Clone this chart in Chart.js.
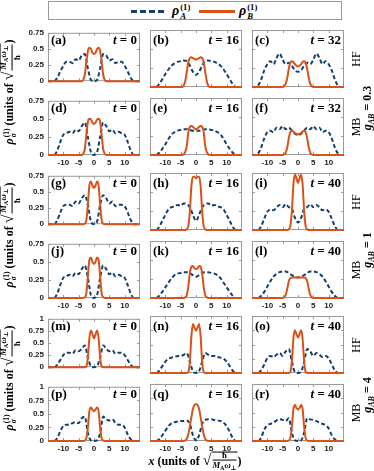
<!DOCTYPE html>
<html>
<head>
<meta charset="utf-8">
<script src="https://cdn.jsdelivr.net/npm/chart.js@4.4.0/dist/chart.umd.min.js"></script>
<style>
  body { margin:0; width:374px; height:471px; position:relative; background:#fff; overflow:hidden;
         font-family:"Liberation Serif","DejaVu Serif",serif; color:#000; }
  canvas { position:absolute; }
  .plab { position:absolute; font-weight:bold; font-size:13px; line-height:13px; white-space:nowrap; }
  .rot { position:absolute; white-space:nowrap; transform:translate(-50%,-50%) rotate(-90deg); }
  .ss { display:inline-flex; flex-direction:column; vertical-align:middle; font-size:0.62em; line-height:1em; margin-left:1px; }
  .frac { display:inline-flex; flex-direction:column; vertical-align:middle; font-size:0.72em; line-height:1.05em; text-align:center; }
  .frac > span:first-child { border-bottom:1px solid #000; padding:0 1px; }
  .rad { border-top:1px solid #000; padding:1px 1px 0 1px; }
  #legend { position:absolute; left:48px; top:1px; width:294px; height:19px; border:1px solid #999; box-sizing:border-box; }
</style>
</head>
<body>
<div id="legend">
  <div style="position:absolute;left:82px;top:8px;width:36px;height:2.5px;background:repeating-linear-gradient(to right,#123f6e 0 6px,transparent 6px 9px);"></div>
  <div class="plab" style="left:123px;top:1px;font-size:14px;"><i>ρ</i><span class="ss"><span>(1)</span><span><i>A</i></span></span></div>
  <div style="position:absolute;left:150px;top:8px;width:36px;height:2.5px;background:#d95319;"></div>
  <div class="plab" style="left:190px;top:1px;font-size:14px;"><i>ρ</i><span class="ss"><span>(1)</span><span><i>B</i></span></span></div>
</div>
<script>
// x grid for species A (step 1) and B (finer near the centre)
const X_A = [-15,-14,-13,-12,-11,-10,-9,-8,-7,-6,-5,-4,-3,-2,-1,0,1,2,3,4,5,6,7,8,9,10,11,12,13,14,15];
const X_B = [-15,-5,-4.5,-4,-3.5,-3,-2.5,-2,-1.5,-1,-0.5,0,0.5,1,1.5,2,2.5,3,3.5,4,4.5,5,15];

const X_TICKS = [-10,-5,0,5,10];
const Y_TICKS_SMALL = [0,0.25,0.5,0.75];
const Y_TICKS_BIG = [0,0.25,0.5,0.75,1];

// rho_A^(1) per panel
const rhoA_a = [0,0,0,0.05,0.15,0.24,0.3,0.3,0.28,0.34,0.32,0.4,0.42,0.2,0.02,0,0.02,0.2,0.42,0.4,0.32,0.34,0.28,0.3,0.3,0.24,0.15,0.05,0,0,0];
const rhoA_b = [0,0,0,0.04,0.1,0.17,0.23,0.28,0.31,0.33,0.34,0.35,0.34,0.28,0.2,0.16,0.2,0.28,0.34,0.35,0.34,0.33,0.31,0.28,0.23,0.17,0.1,0.04,0,0,0];
const rhoA_c = [0,0,0.02,0.1,0.22,0.3,0.34,0.3,0.38,0.44,0.36,0.3,0.32,0.28,0.22,0.2,0.22,0.28,0.32,0.3,0.36,0.44,0.38,0.3,0.34,0.3,0.22,0.1,0.02,0,0];
const rhoA_d = [0,0,0,0.06,0.18,0.28,0.3,0.32,0.3,0.35,0.33,0.4,0.45,0.25,0.04,0,0.04,0.25,0.45,0.4,0.33,0.35,0.3,0.32,0.3,0.28,0.18,0.06,0,0,0];
const rhoA_e = [0,0,0,0.03,0.08,0.14,0.21,0.27,0.3,0.32,0.33,0.34,0.34,0.33,0.32,0.32,0.32,0.33,0.34,0.34,0.33,0.32,0.3,0.27,0.21,0.14,0.08,0.03,0,0,0];
const rhoA_f = [0,0,0.02,0.1,0.22,0.3,0.32,0.3,0.36,0.34,0.38,0.34,0.36,0.32,0.28,0.26,0.28,0.32,0.36,0.34,0.38,0.34,0.36,0.3,0.32,0.3,0.22,0.1,0.02,0,0];
const rhoA_g = [0,0,0,0.06,0.18,0.28,0.3,0.3,0.28,0.35,0.32,0.4,0.45,0.3,0.04,0,0.04,0.3,0.45,0.4,0.32,0.35,0.28,0.3,0.3,0.28,0.18,0.06,0,0,0];
const rhoA_h = [0,0,0,0.04,0.12,0.2,0.27,0.3,0.31,0.33,0.32,0.35,0.34,0.3,0.2,0.12,0.2,0.3,0.34,0.35,0.32,0.33,0.31,0.3,0.27,0.2,0.12,0.04,0,0,0];
const rhoA_i = [0,0,0,0.05,0.15,0.24,0.27,0.26,0.3,0.33,0.3,0.34,0.3,0.28,0.16,0.1,0.16,0.28,0.3,0.34,0.3,0.33,0.3,0.26,0.27,0.24,0.15,0.05,0,0,0];
const rhoA_j = [0,0,0,0.06,0.18,0.28,0.3,0.32,0.3,0.35,0.33,0.4,0.45,0.28,0.04,0,0.04,0.28,0.45,0.4,0.33,0.35,0.3,0.32,0.3,0.28,0.18,0.06,0,0,0];
const rhoA_k = [0,0,0,0.03,0.08,0.14,0.2,0.26,0.3,0.32,0.33,0.34,0.34,0.33,0.3,0.28,0.3,0.33,0.34,0.34,0.33,0.32,0.3,0.26,0.2,0.14,0.08,0.03,0,0,0];
const rhoA_l = [0,0,0,0.03,0.08,0.15,0.22,0.28,0.32,0.34,0.35,0.35,0.33,0.3,0.28,0.27,0.28,0.3,0.33,0.35,0.35,0.34,0.32,0.28,0.22,0.15,0.08,0.03,0,0,0];
const rhoA_m = [0,0,0,0.05,0.15,0.25,0.3,0.3,0.28,0.35,0.33,0.38,0.45,0.2,0.02,0,0.02,0.2,0.45,0.38,0.33,0.35,0.28,0.3,0.3,0.25,0.15,0.05,0,0,0];
const rhoA_n = [0,0,0,0.04,0.12,0.2,0.25,0.27,0.28,0.3,0.3,0.32,0.35,0.2,0.03,0,0.03,0.2,0.35,0.32,0.3,0.3,0.28,0.27,0.25,0.2,0.12,0.04,0,0,0];
const rhoA_o = [0,0,0,0.05,0.15,0.26,0.3,0.28,0.32,0.35,0.3,0.38,0.42,0.2,0.02,0,0.02,0.2,0.42,0.38,0.3,0.35,0.32,0.28,0.3,0.26,0.15,0.05,0,0,0];
const rhoA_p = [0,0,0,0.05,0.18,0.28,0.3,0.3,0.33,0.35,0.33,0.42,0.45,0.15,0.01,0,0.01,0.15,0.45,0.4,0.38,0.4,0.33,0.3,0.3,0.25,0.12,0.03,0,0,0];
const rhoA_q = [0,0,0,0.03,0.1,0.18,0.26,0.31,0.33,0.34,0.35,0.35,0.36,0.3,0.1,0.01,0.1,0.3,0.37,0.38,0.38,0.37,0.36,0.35,0.32,0.26,0.16,0.05,0,0,0];
const rhoA_r = [0,0,0,0.06,0.2,0.28,0.3,0.32,0.36,0.38,0.37,0.35,0.4,0.15,0.01,0,0.01,0.15,0.4,0.38,0.37,0.35,0.32,0.3,0.28,0.22,0.1,0.03,0,0,0];

// rho_B^(1) per panel
const rhoB_a = [0,0,0,0,0.02,0.1,0.3,0.47,0.52,0.5,0.44,0.42,0.44,0.5,0.52,0.47,0.3,0.1,0.02,0,0,0,0];
const rhoB_b = [0,0,0,0.02,0.08,0.2,0.33,0.38,0.39,0.38,0.37,0.36,0.37,0.38,0.39,0.38,0.33,0.2,0.08,0.02,0,0,0];
const rhoB_c = [0,0,0.01,0.04,0.12,0.24,0.32,0.34,0.33,0.3,0.28,0.27,0.28,0.3,0.33,0.34,0.32,0.24,0.12,0.04,0.01,0,0];
const rhoB_d = [0,0,0,0,0.02,0.08,0.28,0.46,0.5,0.49,0.45,0.43,0.45,0.49,0.5,0.46,0.28,0.08,0.02,0,0,0,0];
const rhoB_e = [0,0,0,0.01,0.04,0.12,0.3,0.37,0.38,0.37,0.35,0.34,0.35,0.37,0.38,0.37,0.3,0.12,0.04,0.01,0,0,0];
const rhoB_f = [0,0,0.01,0.03,0.1,0.22,0.3,0.32,0.31,0.29,0.28,0.27,0.28,0.29,0.31,0.32,0.3,0.22,0.1,0.03,0.01,0,0];
const rhoB_g = [0,0,0,0,0,0.01,0.06,0.3,0.6,0.66,0.6,0.56,0.6,0.66,0.6,0.3,0.06,0.01,0,0,0,0,0];
const rhoB_h = [0,0,0,0,0,0.01,0.05,0.25,0.58,0.7,0.7,0.68,0.7,0.7,0.58,0.25,0.05,0.01,0,0,0,0,0];
const rhoB_i = [0,0,0,0,0,0.01,0.05,0.25,0.6,0.73,0.68,0.62,0.68,0.73,0.6,0.25,0.05,0.01,0,0,0,0,0];
const rhoB_j = [0,0,0,0,0,0.01,0.06,0.3,0.53,0.56,0.5,0.47,0.5,0.56,0.53,0.3,0.06,0.01,0,0,0,0,0];
const rhoB_k = [0,0,0,0,0.01,0.04,0.15,0.33,0.41,0.42,0.39,0.38,0.39,0.42,0.41,0.33,0.15,0.04,0.01,0,0,0,0];
const rhoB_l = [0,0,0.01,0.04,0.12,0.22,0.26,0.27,0.27,0.27,0.27,0.27,0.27,0.27,0.27,0.27,0.26,0.22,0.12,0.04,0.01,0,0];
const rhoB_m = [0,0,0,0,0,0,0.02,0.2,0.6,0.76,0.68,0.6,0.68,0.76,0.6,0.2,0.02,0,0,0,0,0,0];
const rhoB_n = [0,0,0,0,0,0,0.02,0.2,0.65,0.86,0.8,0.74,0.8,0.86,0.65,0.2,0.02,0,0,0,0,0,0];
const rhoB_o = [0,0,0,0,0,0,0.02,0.2,0.6,0.75,0.68,0.62,0.68,0.75,0.6,0.2,0.02,0,0,0,0,0,0];
const rhoB_p = [0,0,0,0,0,0.01,0.05,0.25,0.55,0.62,0.58,0.55,0.58,0.62,0.55,0.25,0.05,0.01,0,0,0,0,0];
const rhoB_q = [0,0,0,0,0.01,0.04,0.12,0.26,0.42,0.56,0.63,0.65,0.63,0.56,0.42,0.26,0.12,0.04,0.01,0,0,0,0];
const rhoB_r = [0,0,0,0,0,0.01,0.05,0.25,0.56,0.63,0.58,0.55,0.58,0.63,0.56,0.25,0.05,0.01,0,0,0,0,0];

const RHO_A = [rhoA_a,rhoA_b,rhoA_c,rhoA_d,rhoA_e,rhoA_f,rhoA_g,rhoA_h,rhoA_i,rhoA_j,rhoA_k,rhoA_l,rhoA_m,rhoA_n,rhoA_o,rhoA_p,rhoA_q,rhoA_r];
const RHO_B = [rhoB_a,rhoB_b,rhoB_c,rhoB_d,rhoB_e,rhoB_f,rhoB_g,rhoB_h,rhoB_i,rhoB_j,rhoB_k,rhoB_l,rhoB_m,rhoB_n,rhoB_o,rhoB_p,rhoB_q,rhoB_r];
const LETTERS = ['a','b','c','d','e','f','g','h','i','j','k','l','m','n','o','p','q','r'];
const TIMES = [0,16,32, 0,16,32, 0,16,40, 0,16,40, 0,16,40, 0,16,40];
const METHODS = ['HF','MB','HF','MB','HF','MB'];
const COUPLINGS = ['0.3','1','4'];

// layout
const COL_LEFT = [48, 150, 252];
const ROW_TOP = [30, 98, 173, 241, 316, 384];
const PW = 92, PH = 57;
const BLUE = '#123f6e', ORANGE = '#d95319';

// box with inward ticks (matlab style)
const boxPlugin = {
  id: 'box',
  beforeDatasetsDraw(chart) {
    const {ctx, chartArea: a, scales: {x, y}} = chart;
    ctx.save();
    ctx.strokeStyle = '#9a9a9a';
    ctx.lineWidth = 1;
    ctx.strokeRect(a.left + 0.5, a.top + 0.5, a.right - a.left - 1, a.bottom - a.top - 1);
    ctx.beginPath();
    x.ticks.forEach(t => {
      const px = Math.round(x.getPixelForValue(t.value)) + 0.5;
      ctx.moveTo(px, a.bottom); ctx.lineTo(px, a.bottom - 3);
      ctx.moveTo(px, a.top); ctx.lineTo(px, a.top + 3);
    });
    y.ticks.forEach(t => {
      const py = Math.round(y.getPixelForValue(t.value)) + 0.5;
      ctx.moveTo(a.left, py); ctx.lineTo(a.left + 3, py);
      ctx.moveTo(a.right, py); ctx.lineTo(a.right - 3, py);
    });
    ctx.stroke();
    ctx.restore();
  }
};

function pts(xs, ys) { return xs.map((x, i) => ({x: x, y: ys[i]})); }

LETTERS.forEach((letter, k) => {
  const row = Math.floor(k / 3), col = k % 3;
  const L = COL_LEFT[col], T = ROW_TOP[row];
  const showY = col === 0, showX = row % 2 === 1;
  const padL = showY ? 34 : 0, padT = 6, padR = 3, padB = showX ? 16 : 3;
  const yTicks = row >= 4 ? Y_TICKS_BIG : Y_TICKS_SMALL;
  const yMax = row >= 4 ? 1 : 0.75;

  const cv = document.createElement('canvas');
  cv.width = padL + PW + padR; cv.height = padT + PH + padB;
  cv.style.left = (L - padL) + 'px'; cv.style.top = (T - padT) + 'px';
  document.body.appendChild(cv);

  new Chart(cv, {
    type: 'line',
    data: {
      datasets: [
        { data: pts(X_A, RHO_A[k]), borderColor: BLUE, borderWidth: 2, borderDash: [4, 2.5],
          pointRadius: 0, cubicInterpolationMode: 'monotone', clip: 4, order: 2 },
        { data: pts(X_B, RHO_B[k]), borderColor: ORANGE, borderWidth: 2,
          pointRadius: 0, cubicInterpolationMode: 'monotone', clip: 4, order: 1 }
      ]
    },
    options: {
      responsive: false, animation: false, devicePixelRatio: 1,
      layout: { padding: { left: 0, top: padT, right: padR, bottom: showX ? 0 : padB } },
      plugins: { legend: { display: false }, tooltip: { enabled: false } },
      scales: {
        x: {
          type: 'linear', min: -15, max: 15,
          afterBuildTicks: s => { s.ticks = X_TICKS.map(v => ({value: v})); },
          afterFit: s => { s.height = showX ? padB : 0; },
          grid: { display: false, drawTicks: false }, border: { display: false },
          ticks: { display: showX, padding: 3, color: '#222', maxRotation: 0,
                   font: { family: 'Liberation Sans', size: 8, weight: 'bold' } }
        },
        y: {
          min: 0, max: yMax,
          afterBuildTicks: s => { s.ticks = yTicks.map(v => ({value: v})); },
          afterFit: s => { s.width = padL; },
          grid: { display: false, drawTicks: false }, border: { display: false },
          ticks: { display: showY, padding: 4, color: '#222',
                   callback: v => String(v),
                   font: { family: 'Liberation Sans', size: 8, weight: 'bold' } }
        }
      }
    },
    plugins: [boxPlugin]
  });

  const lab = document.createElement('div');
  lab.className = 'plab';
  lab.style.left = (L + 3) + 'px'; lab.style.top = (T + 3) + 'px';
  lab.textContent = '(' + letter + ')';
  document.body.appendChild(lab);

  const tl = document.createElement('div');
  tl.className = 'plab';
  tl.style.left = (L + PW - 44) + 'px'; tl.style.top = (T + 3) + 'px';
  tl.style.width = '41px'; tl.style.textAlign = 'right';
  tl.innerHTML = '<i>t</i> = ' + TIMES[k];
  document.body.appendChild(tl);
});

// HF / MB labels and couplings on the right
METHODS.forEach((m, r) => {
  const d = document.createElement('div');
  d.className = 'rot';
  d.style.fontSize = '12px';
  d.style.left = '356px'; d.style.top = (ROW_TOP[r] + PH / 2) + 'px';
  d.textContent = m;
  document.body.appendChild(d);
});
const G_CENTER = [108, 250, 395];
COUPLINGS.forEach((g, i) => {
  const d = document.createElement('div');
  d.className = 'rot';
  d.style.fontSize = '12px'; d.style.fontWeight = 'bold';
  d.style.left = '368px'; d.style.top = G_CENTER[i] + 'px';
  d.innerHTML = '<i>g</i><sub style="font-size:8px"><i>AB</i></sub> = ' + g;
  document.body.appendChild(d);
});

// y axis titles (one per coupling pair)
const Y_TITLE_CENTER = [92, 235, 378];
Y_TITLE_CENTER.forEach(c => {
  const d = document.createElement('div');
  d.className = 'rot';
  d.style.fontSize = '12px'; d.style.fontWeight = 'bold';
  d.style.left = '10px'; d.style.top = c + 'px';
  d.innerHTML = '<i>ρ</i><span class="ss"><span>(1)</span><span><i>σ</i></span></span> (units of ' +
    '<span style="font-size:1.3em">√</span><span class="rad"><span class="frac"><span><i>M</i><sub style="font-size:0.7em">A</sub><i>ω</i><sub style="font-size:0.7em">⊥</sub></span><span>ħ</span></span></span>)';
  document.body.appendChild(d);
});

// x axis title
const xt = document.createElement('div');
xt.className = 'plab';
xt.style.fontSize = '12px';
xt.style.left = '195px'; xt.style.top = '462px';
xt.style.transform = 'translate(-50%,-50%)';
xt.innerHTML = '<i>x</i> (units of <span style="font-size:1.3em">√</span><span class="rad"><span class="frac"><span>ħ</span><span><i>M</i><sub style="font-size:0.7em">A</sub><i>ω</i><sub style="font-size:0.7em">⊥</sub></span></span></span>)';
document.body.appendChild(xt);
</script>
</body>
</html>
